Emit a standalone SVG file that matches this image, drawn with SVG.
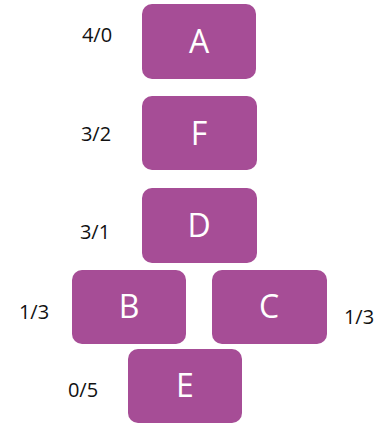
<svg xmlns="http://www.w3.org/2000/svg" width="385" height="423" viewBox="0 0 385 423">
<style>
.n{fill:#A64D96;}
.t{font-family:"Open Sans","DejaVu Sans",sans-serif;font-size:32px;fill:#fff;text-anchor:middle;}
.l{font-family:"Open Sans","DejaVu Sans",sans-serif;font-size:20px;fill:#111;text-anchor:middle;}
</style>
<rect width="385" height="423" fill="#fff"/>
<g id="A"><rect class="n" x="142" y="4" width="114" height="75" rx="10"/><text class="t" x="199" y="53">A</text></g>
<g id="F"><rect class="n" x="142" y="96" width="115" height="74" rx="10"/><text class="t" x="199" y="145">F</text></g>
<g id="D"><rect class="n" x="142" y="188" width="115" height="75" rx="10"/><text class="t" x="199" y="237">D</text></g>
<g id="B"><rect class="n" x="72" y="270" width="114" height="74" rx="10"/><text class="t" x="129" y="318">B</text></g>
<g id="C"><rect class="n" x="212" y="270" width="115" height="74" rx="10"/><text class="t" x="269" y="318">C</text></g>
<g id="E"><rect class="n" x="128" y="349" width="114" height="74" rx="10"/><text class="t" x="185" y="397">E</text></g>
<g id="labels">
<text class="l" x="97" y="42">4/0</text>
<text class="l" x="96" y="141">3/2</text>
<text class="l" x="95" y="239">3/1</text>
<text class="l" x="34" y="319">1/3</text>
<text class="l" x="359" y="324">1/3</text>
<text class="l" x="83" y="397">0/5</text>
</g>
<g id="connectors"></g>
</svg>
